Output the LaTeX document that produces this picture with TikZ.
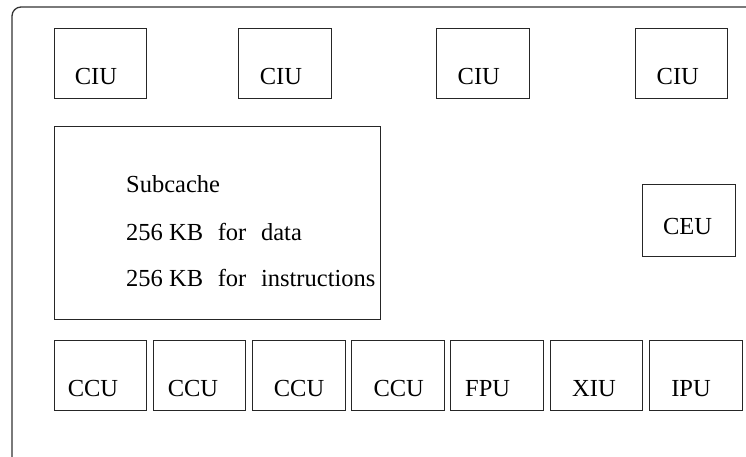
\documentclass[tikz,border=0pt]{standalone}
\usepackage{fontspec}
\setmainfont{Liberation Serif}
\begin{document}
\begin{tikzpicture}[x=1pt,y=-1pt,
  unit/.style={draw=black!85,line width=1pt,inner sep=0pt,outer sep=0pt,
    minimum width=92.7pt,minimum height=70.7pt,anchor=north west},
  lbl/.style={anchor=base,inner sep=0pt,font=\fontsize{24.5}{29}\selectfont},
  txt/.style={anchor=base west,inner sep=0pt,font=\fontsize{24.5}{29}\selectfont}]
\useasboundingbox (0,0) rectangle (746,457);
\clip (0,0) rectangle (746,457);
% chip outline (runs past the right and lower edges)
\draw[black!80,line width=1.3pt,rounded corners=9pt] (12,7) rectangle (770,480);

% cache interface units
\foreach \n/\x/\c in {1/54/96,2/238.3/281,3/436.7/478.8,4/635/677.8}{
  \node[unit] (ciu\n) at (\x,28.3) {};
  \node[lbl] (ciul\n) at (\c,85) {CIU};
}

% subcache
\node[unit,minimum width=326pt,minimum height=192pt] (sub) at (54,127) {};
\node[txt] (sub1) at (126,192.7) {Subcache};
\node[txt] (sub2) at (126,240) {256 KB\hspace{0.6em}for\hspace{0.6em}data};
\node[txt] (sub3) at (126,286.7) {256 KB\hspace{0.6em}for\hspace{0.6em}instructions};

% cell execution unit
\node[unit,minimum width=92.3pt,minimum height=72pt] (ceu) at (642.7,184) {};
\node[lbl] (ceul) at (687.5,234) {CEU};

% lower row of units
\foreach \n/\x/\c/\t in {1/54/93/CCU,2/153/193/CCU,3/252.7/299/CCU,4/351.7/398.7/CCU,
    5/450.7/487.7/FPU,6/550/594/XIU,7/649.3/691/IPU}{
  \node[unit] (low\n) at (\x,340) {};
  \node[lbl] (lowl\n) at (\c,396.7) {\t};
}
\end{tikzpicture}
\end{document}
